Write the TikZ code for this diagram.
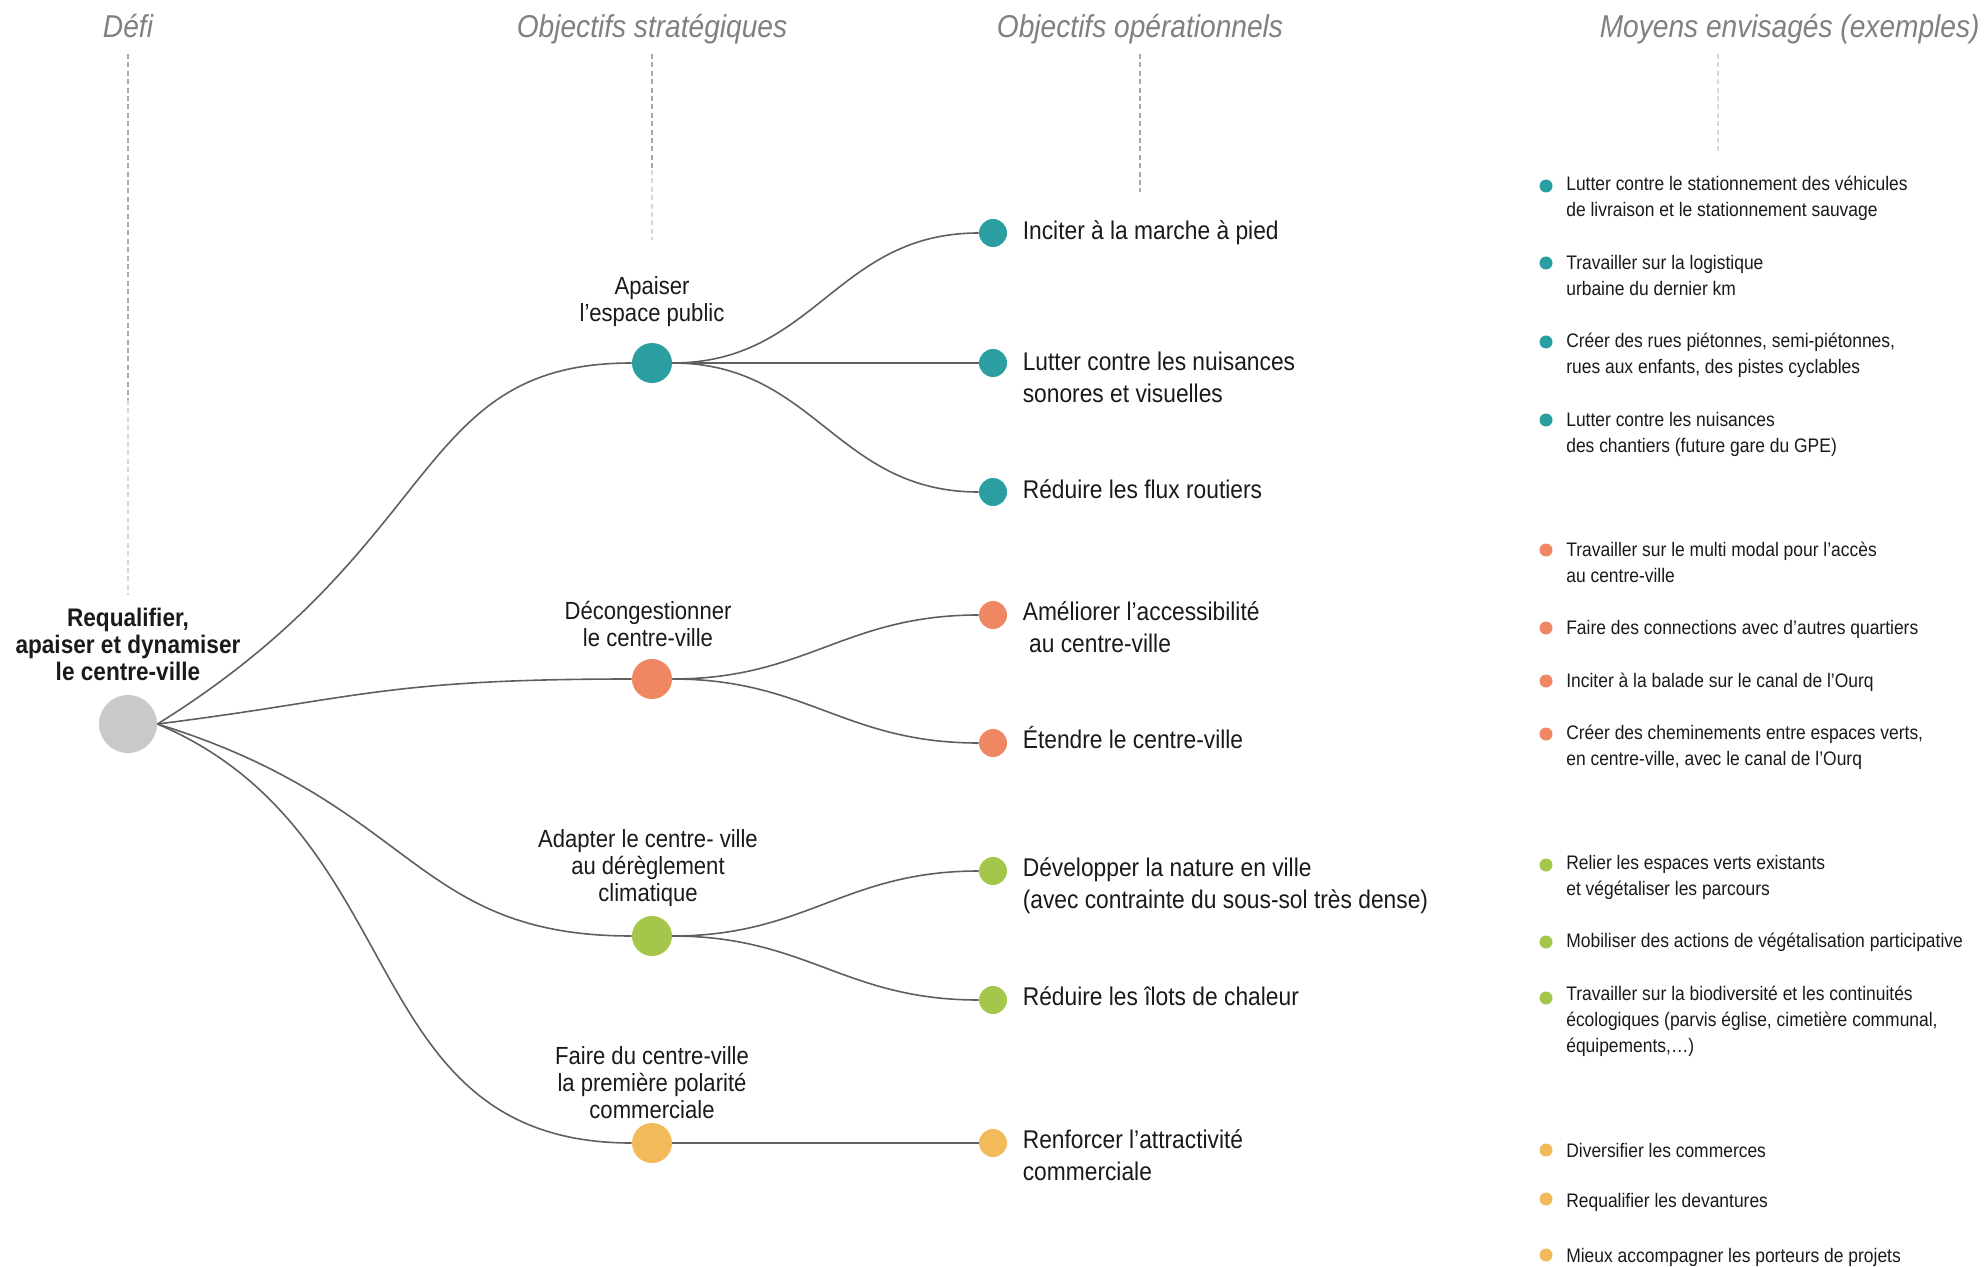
\documentclass[tikz,border=0pt]{standalone}
\usepackage{fontspec}
\setmainfont{Liberation Sans}[FakeStretch=0.89]
\usepackage{tikz}
\usetikzlibrary{positioning}

\definecolor{tealdot}{HTML}{2B9EA1}
\definecolor{orangedot}{HTML}{EF8762}
\definecolor{greendot}{HTML}{A4C74B}
\definecolor{yellowdot}{HTML}{F3BA5B}
\definecolor{rootgray}{HTML}{C9C9C9}
\definecolor{linkgray}{HTML}{5F5F5F}
\definecolor{guidegray}{HTML}{A8A8A8}
\definecolor{headgray}{HTML}{808080}
\definecolor{inkcol}{HTML}{1A1A1A}

\begin{document}
\begin{tikzpicture}[x=0.5pt, y=-0.5pt,
    defi/.style={circle, fill=rootgray, minimum size=29pt, inner sep=0pt},
    strat/.style={circle, minimum size=20pt, inner sep=0pt},
    oper/.style={circle, minimum size=14pt, inner sep=0pt},
    puce/.style={circle, minimum size=6.5pt, inner sep=0pt},
    header/.style={font=\fontsize{15.8}{18}\selectfont\itshape, text=headgray, inner sep=0pt, anchor=base},
    rootlbl/.style={font=\fontsize{12.7}{13.5}\selectfont\bfseries, align=center, inner sep=0pt, text=inkcol},
    stratlbl/.style={font=\fontsize{12.4}{13.5}\selectfont, align=center, inner sep=0pt, text=inkcol},
    optext/.style={font=\fontsize{12.8}{16}\selectfont, align=left, inner sep=0pt, text=inkcol},
    moyen/.style={font=\fontsize{9.8}{13}\selectfont, align=left, inner sep=0pt, text=inkcol},
    branch/.style={draw=linkgray, line width=0.8pt},
    guide/.style={draw=guidegray, line width=1pt, dash pattern=on 2.5pt off 1.7pt},
    faint/.style={guide, draw=guidegray!45}]

    \useasboundingbox (0,0) rectangle (1984,1267);

    % column titles
    \node[header] (h_1) at (128,38) {Défi};
    \node[header] (h_2) at (652,38) {Objectifs stratégiques};
    \node[header] (h_3) at (1140,38) {Objectifs opérationnels};
    \node[header, anchor=base east] (h_4) at (1980,38) {Moyens envisagés (exemples)};

    \coordinate (g_1t) at (128,54);  \coordinate (g_1m) at (128,400);  \coordinate (g_1b) at (128,595);
    \coordinate (g_2t) at (652,54);  \coordinate (g_2m) at (652,170);  \coordinate (g_2b) at (652,240);
    \coordinate (g_3t) at (1140,54); \coordinate (g_3b) at (1140,192);
    \coordinate (g_4t) at (1718,54); \coordinate (g_4b) at (1718,152);

    \draw[guide] (g_1t) -- (g_1m);
    \draw[faint] (g_1m) -- (g_1b);
    \draw[guide] (g_2t) -- (g_2m);
    \draw[faint] (g_2m) -- (g_2b);
    \draw[guide] (g_3t) -- (g_3b);
    \draw[faint] (g_4t) -- (g_4b);

    % defi
    \node[defi] (root) at (128,724) {};
    \node[rootlbl] (root_txt) [above=6.6pt of root]
          {Requalifier,\\apaiser et dynamiser\\le centre-ville};

    % objectifs strategiques
    \node[strat, fill=tealdot] (s_1) at (652,363) {};
    \node[stratlbl] (s_1_txt) [above=8pt of s_1] {Apaiser\\l’espace public};

    \node[strat, fill=orangedot] (s_2) at (652,679) {};
    \node[stratlbl] (s_2_txt) [above=5.7pt of s_2, xshift=-2pt]
          {Décongestionner\\le centre-ville};

    \node[strat, fill=greendot] (s_3) at (652,936) {};
    \node[stratlbl] (s_3_txt) [above=4.5pt of s_3, xshift=-2pt]
          {Adapter le centre- ville\\au dérèglement\\climatique};

    \node[strat, fill=yellowdot] (s_4) at (652,1143) {};
    \node[stratlbl] (s_4_txt) [above=1.7pt of s_4]
          {Faire du centre-ville\\la première polarité\\commerciale};

    % objectifs operationnels
    \node[oper, fill=tealdot] (o_1) at (993,233) {};
    \node[optext] (o_1_txt) [right=7.5pt of o_1] {Inciter à la marche à pied};

    \node[oper, fill=tealdot] (o_2) at (993,363) {};
    \node[optext] (o_2_txt) [right=7.5pt of o_2, yshift=-7pt]
          {Lutter contre les nuisances\\sonores et visuelles};

    \node[oper, fill=tealdot] (o_3) at (993,492) {};
    \node[optext] (o_3_txt) [right=7.5pt of o_3, yshift=1.3pt] {Réduire les flux routiers};

    \node[oper, fill=orangedot] (o_4) at (993,615) {};
    \node[optext] (o_4_txt) [right=7.5pt of o_4, yshift=-6pt]
          {Améliorer l’accessibilité\\~au centre-ville};

    \node[oper, fill=orangedot] (o_5) at (993,743) {};
    \node[optext] (o_5_txt) [right=7.5pt of o_5, yshift=2.9pt] {Étendre le centre-ville};

    \node[oper, fill=greendot] (o_6) at (993,871) {};
    \node[optext] (o_6_txt) [right=7.5pt of o_6, yshift=-7.5pt]
          {Développer la nature en ville\\(avec contrainte du sous-sol très dense)};

    \node[oper, fill=greendot] (o_7) at (993,1000) {};
    \node[optext] (o_7_txt) [right=7.5pt of o_7, yshift=1.9pt] {Réduire les îlots de chaleur};

    \node[oper, fill=yellowdot] (o_8) at (993,1143) {};
    \node[optext] (o_8_txt) [right=7.5pt of o_8, yshift=-6.2pt]
          {Renforcer l’attractivité\\commerciale};

    % moyens envisages
    \node[puce, fill=tealdot] (m_1) at (1546,186) {};
    \node[moyen] (m_1_txt) [right=6.5pt of m_1, yshift=-6pt]
          {Lutter contre le stationnement des véhicules\\de livraison et le stationnement sauvage};
    \node[puce, fill=tealdot] (m_2) at (1546,263) {};
    \node[moyen] (m_2_txt) [right=6.5pt of m_2, yshift=-6pt]
          {Travailler sur la logistique\\urbaine du dernier km};
    \node[puce, fill=tealdot] (m_3) at (1546,342) {};
    \node[moyen] (m_3_txt) [right=6.5pt of m_3, yshift=-6.5pt]
          {Créer des rues piétonnes, semi-piétonnes,\\rues aux enfants, des pistes cyclables};
    \node[puce, fill=tealdot] (m_4) at (1546,420) {};
    \node[moyen] (m_4_txt) [right=6.5pt of m_4, yshift=-7.3pt]
          {Lutter contre les nuisances\\des chantiers (future gare du GPE)};

    \node[puce, fill=orangedot] (m_5) at (1546,550) {};
    \node[moyen] (m_5_txt) [right=6.5pt of m_5, yshift=-6pt]
          {Travailler sur le multi modal pour l’accès\\au centre-ville};
    \node[puce, fill=orangedot] (m_6) at (1546,628) {};
    \node[moyen] (m_6_txt) [right=6.5pt of m_6, yshift=-0.6pt] {Faire des connections avec d’autres quartiers};
    \node[puce, fill=orangedot] (m_7) at (1546,681) {};
    \node[moyen] (m_7_txt) [right=6.5pt of m_7, yshift=-0.6pt] {Inciter à la balade sur le canal de l’Ourq};
    \node[puce, fill=orangedot] (m_8) at (1546,734) {};
    \node[moyen] (m_8_txt) [right=6.5pt of m_8, yshift=-6.6pt]
          {Créer des cheminements entre espaces verts,\\en centre-ville, avec le canal de l’Ourq};

    \node[puce, fill=greendot] (m_9) at (1546,865) {};
    \node[moyen] (m_9_txt) [right=6.5pt of m_9, yshift=-6pt]
          {Relier les espaces verts existants\\et végétaliser les parcours};
    \node[puce, fill=greendot] (m_10) at (1546,942) {};
    \node[moyen] (m_10_txt) [right=6.5pt of m_10] {Mobiliser des actions de végétalisation participative};
    \node[puce, fill=greendot] (m_11) at (1546,998) {};
    \node[moyen] (m_11_txt) [right=6.5pt of m_11, yshift=-11.5pt]
          {Travailler sur la biodiversité et les continuités\\écologiques (parvis église, cimetière communal,\\équipements,…)};

    \node[puce, fill=yellowdot] (m_12) at (1546,1150) {};
    \node[moyen] (m_12_txt) [right=6.5pt of m_12] {Diversifier les commerces};
    \node[puce, fill=yellowdot] (m_13) at (1546,1199) {};
    \node[moyen] (m_13_txt) [right=6.5pt of m_13, yshift=-1.5pt] {Requalifier les devantures};
    \node[puce, fill=yellowdot] (m_14) at (1546,1255) {};
    \node[moyen] (m_14_txt) [right=6.5pt of m_14, yshift=-1pt] {Mieux accompagner les porteurs de projets};

    % branches
    \draw[branch] (root.east) .. controls +(290,-180) and +(-240,0) .. (s_1);
    \draw[branch] (root.east) .. controls +(200,-25) and +(-270,0) .. (s_2);
    \draw[branch] (root.east) .. controls +(260,80) and +(-240,0) .. (s_3);
    \draw[branch] (root.east) .. controls +(260,110) and +(-300,0) .. (s_4);

    \draw[branch] (s_1) to[out=0, in=180, looseness=1.1] (o_1);
    \draw[branch] (s_1) -- (o_2);
    \draw[branch] (s_1) to[out=0, in=180, looseness=1.1] (o_3);

    \draw[branch] (s_2) to[out=0, in=180, looseness=1.1] (o_4);
    \draw[branch] (s_2) to[out=0, in=180, looseness=1.1] (o_5);

    \draw[branch] (s_3) to[out=0, in=180, looseness=1.1] (o_6);
    \draw[branch] (s_3) to[out=0, in=180, looseness=1.1] (o_7);

    \draw[branch] (s_4) -- (o_8);

\end{tikzpicture}
\end{document}
